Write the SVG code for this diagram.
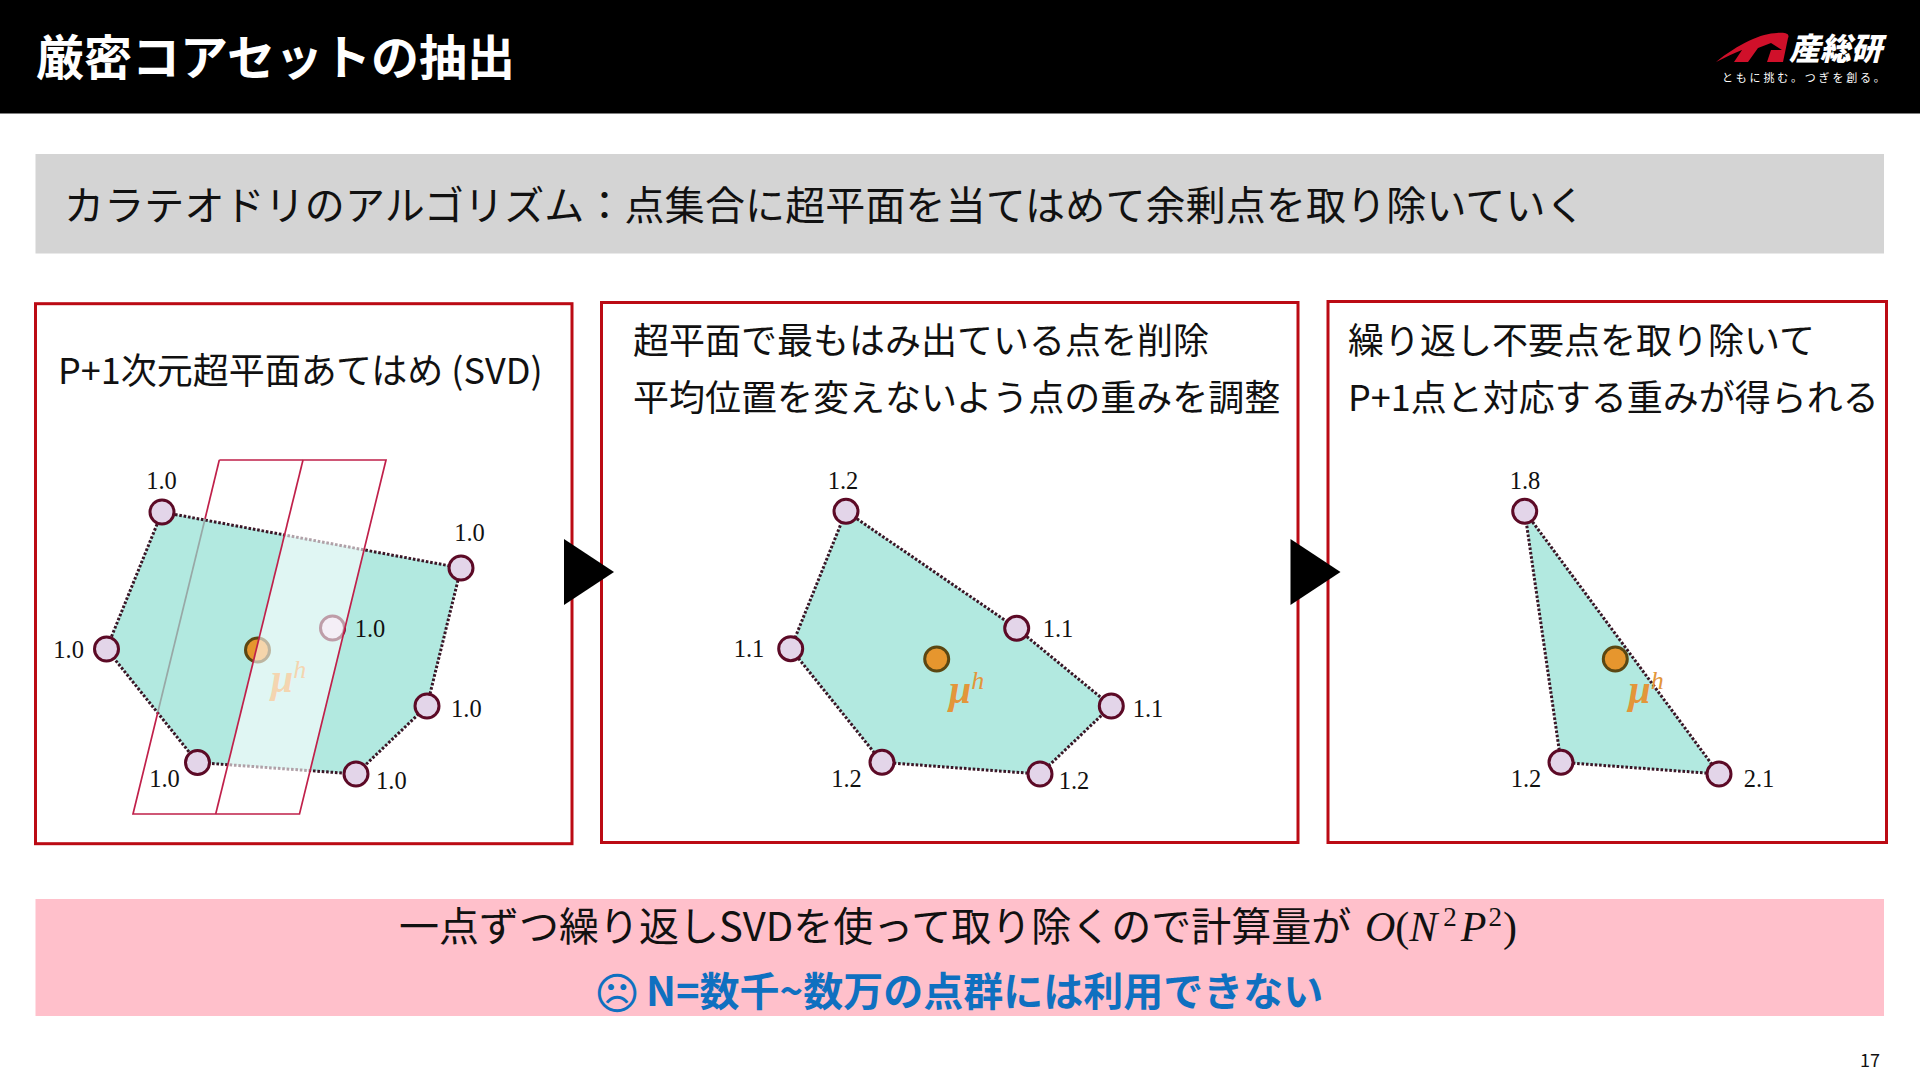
<svg xmlns="http://www.w3.org/2000/svg" width="1920" height="1080" viewBox="0 0 1920 1080">
<defs>
<style>
text{font-family:"Noto Sans CJK JP","Noto Sans",sans-serif;fill:#111}
.panel{fill:#fff;stroke:#bb0a14;stroke-width:3}
.hull{fill:#b2e9e0}
.edge{fill:none;stroke:#3a1626;stroke-width:3;stroke-dasharray:2.6 1.8}
.pt{fill:#e3d5e9;stroke:#5c0a26;stroke-width:3}
.mu{fill:#e6962e;stroke:#5b4712;stroke-width:3}
.num{font-family:"Liberation Serif",serif;font-size:24.5px;text-anchor:middle}
.mul{font-family:"Liberation Serif",serif;font-size:40px;font-weight:bold;font-style:italic;fill:#e3963a}
.sup{font-size:26px;font-weight:normal}
.t36{font-size:36px}
.hp{stroke:#c0204a;stroke-width:1.700;fill:none}
.math{font-family:"Liberation Serif",serif;font-size:42px}
</style>
</defs>
<rect width="1920" height="1080" fill="#fff"/>
<g id="header">
<rect width="1920" height="113.500" fill="#000"/>
<text x="36" y="75" font-size="48" font-weight="700" style="fill:#fff">厳密コアセットの抽出</text>
</g>
<g id="logo">
<path d="M1716 62C1738 44 1762 33 1777 33C1786 32 1790 34 1788 38L1783 62L1767 62L1771 50L1782 50L1771 43L1758 48L1748 62L1734 62L1742 50C1734 53 1726 57 1716 62Z" fill="#d0102a"/>
<text x="1789" y="60" font-size="31" font-weight="900" font-style="italic" style="fill:#fff">産総研</text>
<text x="1722" y="82" font-size="11" letter-spacing="2.800" style="fill:#fff">ともに挑む。つぎを創る。</text>
</g>
<g id="subtitle">
<rect x="35.500" y="154" width="1848.500" height="99.500" fill="#d4d4d4"/>
<text x="64" y="220" font-size="40" letter-spacing=".13">カラテオドリのアルゴリズム：点集合に超平面を当てはめて余剰点を取り除いていく</text>
</g>
<g id="panel1">
<rect class="panel" x="35.500" y="303.700" width="536.500" height="540"/>
<text class="t36" x="58" y="383.500">P+1次元超平面あてはめ (SVD)</text>
<polygon class="hull" points="162,512 461,568 427,706 356,774 197.500,762.500 106.500,649"/>
<polyline class="edge" points="162,512 461,568 427,706 356,774 197.500,762.500 106.500,649 162,512"/>
<circle class="mu" cx="257.500" cy="650" r="12"/>
<text class="mul" x="271" y="692">μ<tspan class="sup" dy="-14">h</tspan></text>
<circle class="pt" cx="162" cy="512" r="12"/>
<circle class="pt" cx="461" cy="568" r="12"/>
<circle class="pt" cx="106.500" cy="649" r="12"/>
<circle class="pt" cx="332.500" cy="628" r="12"/>
<circle class="pt" cx="427" cy="706" r="12"/>
<circle class="pt" cx="356" cy="774" r="12"/>
<circle class="pt" cx="197.500" cy="762.500" r="12"/>
<polygon points="303,460 386,460 299.500,814 215.700,814" fill="#fff" fill-opacity=".6"/>
<polyline class="hp" points="219.300,460 386,460 299.500,814 133,814 157.900,712"/>
<line class="hp" x1="219.300" y1="460" x2="205" y2="519"/>
<line x1="205" y1="519" x2="157.900" y2="712" stroke="#98a8a6" stroke-width="1.700"/>
<line class="hp" x1="303" y1="460" x2="215.700" y2="814"/>
<text class="num" x="161.500" y="489">1.0</text>
<text class="num" x="469.500" y="541">1.0</text>
<text class="num" x="68.600" y="658">1.0</text>
<text class="num" x="370" y="637">1.0</text>
<text class="num" x="466.400" y="717">1.0</text>
<text class="num" x="391.400" y="789">1.0</text>
<text class="num" x="164.500" y="787">1.0</text>
</g>
<g id="panel2">
<rect class="panel" x="601.500" y="302.500" width="696.500" height="540"/>
<text class="t36" x="633" y="353.500">超平面で最もはみ出ている点を削除</text>
<text class="t36" x="633" y="411">平均位置を変えないよう点の重みを調整</text>
<polygon class="hull" points="846,511.300 1016.700,628.300 1111.300,706 1040,774 882,762.300 790.700,648.700"/>
<polyline class="edge" points="846,511.300 1016.700,628.300 1111.300,706 1040,774 882,762.300 790.700,648.700 846,511.300"/>
<circle class="mu" cx="936.700" cy="659" r="12"/>
<text class="mul" x="949" y="703">μ<tspan class="sup" dy="-14">h</tspan></text>
<circle class="pt" cx="846" cy="511.300" r="12"/>
<circle class="pt" cx="1016.700" cy="628.300" r="12"/>
<circle class="pt" cx="1111.300" cy="706" r="12"/>
<circle class="pt" cx="1040" cy="774" r="12"/>
<circle class="pt" cx="882" cy="762.300" r="12"/>
<circle class="pt" cx="790.700" cy="648.700" r="12"/>
<text class="num" x="843" y="489">1.2</text>
<text class="num" x="1058" y="637">1.1</text>
<text class="num" x="1148" y="717">1.1</text>
<text class="num" x="1074" y="789">1.2</text>
<text class="num" x="846.500" y="787">1.2</text>
<text class="num" x="749" y="657">1.1</text>
</g>
<g id="panel3">
<rect class="panel" x="1328" y="301.500" width="558.500" height="541"/>
<text class="t36" x="1348" y="353.500">繰り返し不要点を取り除いて</text>
<text class="t36" x="1348" y="411">P+1点と対応する重みが得られる</text>
<polygon class="hull" points="1524.700,511.300 1719,774 1561,762.300"/>
<polyline class="edge" points="1524.700,511.300 1719,774 1561,762.300 1524.700,511.300"/>
<circle class="mu" cx="1615.300" cy="659" r="12"/>
<text class="mul" x="1628.500" y="703">μ<tspan class="sup" dy="-14">h</tspan></text>
<circle class="pt" cx="1524.700" cy="511.300" r="12"/>
<circle class="pt" cx="1561" cy="762.300" r="12"/>
<circle class="pt" cx="1719" cy="774" r="12"/>
<text class="num" x="1525" y="489">1.8</text>
<text class="num" x="1759" y="787">2.1</text>
<text class="num" x="1526" y="787">1.2</text>
</g>
<g id="connectors">
<polygon points="564,539 614,572 564,605" fill="#000"/>
<polygon points="1290.500,539 1340.500,572 1290.500,605" fill="#000"/>
</g>
<g id="summary">
<rect x="35.500" y="899" width="1848.500" height="117" fill="#ffc0cb"/>
<text x="399" y="941" font-size="40">一点ずつ繰り返しSVDを使って取り除くので計算量が</text>
<text class="math" x="1365" y="941"><tspan font-style="italic">O</tspan>(<tspan font-style="italic">N</tspan><tspan font-size="27" dy="-15" dx="6">2</tspan><tspan font-style="italic" dy="15" dx="4">P</tspan><tspan font-size="27" dy="-15" dx="2">2</tspan><tspan dy="15" dx="1">)</tspan></text>
<text x="594" y="1009" font-size="44" style="font-family:'DejaVu Sans',sans-serif;fill:#0f70c0">☹</text>
<text x="646" y="1006" font-size="40" font-weight="700" style="fill:#0f70c0">N=数千~数万の点群には利用できない</text>
</g>
<g id="page">
<text x="1880" y="1067" font-size="18" text-anchor="end">17</text>
</g>
</svg>
